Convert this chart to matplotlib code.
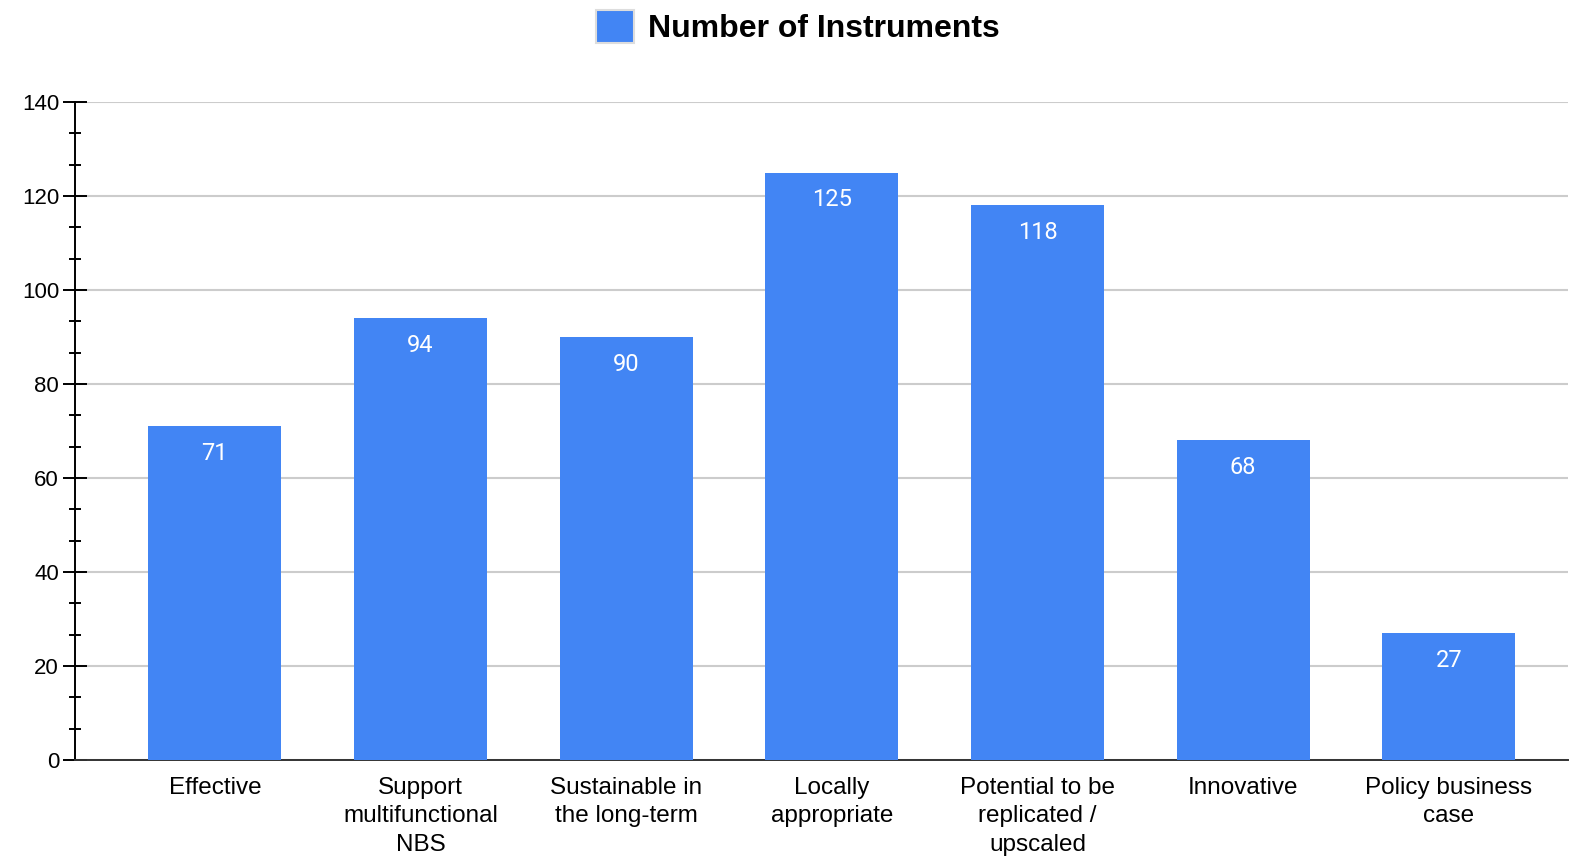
import matplotlib
matplotlib.use("Agg")
import matplotlib.pyplot as plt
from matplotlib.patches import Patch
from matplotlib.ticker import MultipleLocator

categories = ["Effective", "Support\nmultifunctional\nNBS", "Sustainable in\nthe long-term",
              "Locally\nappropriate", "Potential to be\nreplicated /\nupscaled", "Innovative",
              "Policy business\ncase"]
values = [71, 94, 90, 125, 118, 68, 27]
series_name = "Number of Instruments"
yticks = [0, 20, 40, 60, 80, 100, 120, 140]

blue = "#4285F4"
plt.rcParams['font.family'] = ['Liberation Sans', 'DejaVu Sans']

fig = plt.figure(figsize=(15.7, 8.56), dpi=100)
ax = fig.add_axes([75/1570, 1-760/856, (1568-75)/1570, (760-102)/856])

x = list(range(len(categories)))
bars = ax.bar(x, values, width=0.647, color=blue, zorder=3)

for xi, v in zip(x, values):
    ax.annotate(str(v), (xi, v), xytext=(0, -19.5), textcoords="offset points",
                ha="center", va="center", color="white", fontsize=17, family="Roboto", zorder=4)

ax.set_xlim(-0.68, 6.58)
ax.set_ylim(0, 140)
ax.set_yticks(yticks)
ax.yaxis.set_minor_locator(MultipleLocator(20/3))
ax.grid(axis="y", color="#cccccc", linewidth=1.5, zorder=0)
ax.set_xticks(x)
ax.set_xticklabels(categories, fontsize=17.5, linespacing=1.36)

for s in ["top", "right"]:
    ax.spines[s].set_visible(False)
ax.spines["left"].set_linewidth(1.4)
ax.spines["bottom"].set_linewidth(1.4)
ax.spines["bottom"].set_color("#333333")

ax.tick_params(axis="y", which="major", direction="inout", length=17, width=1.4, labelsize=16, pad=3)
ax.tick_params(axis="y", which="minor", direction="inout", length=8.5, width=1.4)
ax.tick_params(axis="x", length=0, pad=12.5)

handles = [Patch(facecolor=blue, edgecolor="#dddddd", linewidth=1.5)]
fig.legend(handles, [series_name], loc="center", bbox_to_anchor=(798/1570, 1-27/856),
           frameon=False, prop={"weight": "bold", "size": 23},
           handlelength=1.2, handleheight=1.2, handletextpad=0.45)

fig.savefig("out.png", dpi=100)
